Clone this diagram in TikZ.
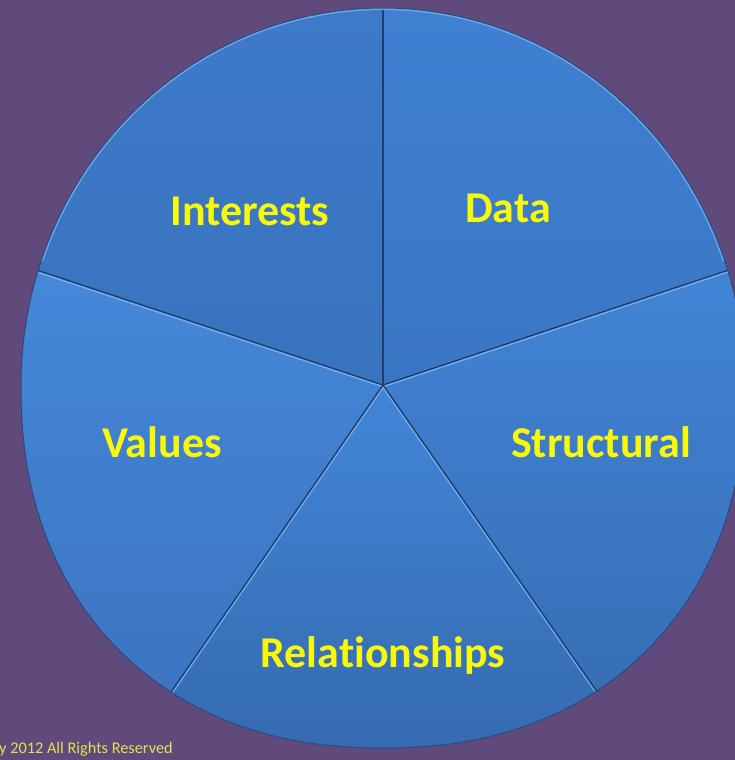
\documentclass[tikz,border=0pt]{standalone}
\usepackage{fontspec}
\setmainfont{Carlito}[Ligatures={NoCommon}]
\usetikzlibrary{calc}
\definecolor{bgpurple}{HTML}{604A7B}
\definecolor{labelyellow}{HTML}{F8F80A}
\definecolor{copyyellow}{HTML}{E6E050}
\definecolor{spokedark}{HTML}{1F3E6E}
\definecolor{spokelight}{HTML}{78B2F2}
\definecolor{rimdark}{HTML}{2A4A80}
\definecolor{rimlight}{HTML}{6AA6EC}
\begin{document}
\begin{tikzpicture}[x=1pt,y=-1pt,
  lbl/.style={text=labelyellow, font=\fontsize{44}{44}\selectfont\bfseries, anchor=base, inner sep=0pt},
  darkline/.style={draw=spokedark, line width=1.4pt},
  lightline/.style={draw=spokelight, line width=1.6pt, opacity=0.9}]
\fill[bgpurple] (0,0) rectangle (735,760);
\useasboundingbox (0,0) rectangle (735,760);
\def\rimpath{plot[domain=0:180,samples=91] ({383+362*cos(\x)},{385-377*sin(\x)}) -- plot[domain=180:360,samples=80] ({383+362*sign(cos(\x))*pow(abs(cos(\x))+0.0001,0.909)},{385+363*pow(abs(sin(\x))+0.0001,0.909)}) -- cycle}
\coordinate (hub) at (383,385);
\coordinate (eT) at (383,-67);
\coordinate (eR) at (828,237);
\coordinate (eBR) at (660,782);
\coordinate (eBL) at (109,782);
\coordinate (eL) at (-66,236);
\begin{scope}
  \clip \rimpath;
  \shade[top color={rgb,255:red,62;green,124;blue,204}, bottom color={rgb,255:red,57;green,115;blue,190}] (hub) -- (eL) -- (-100,-100) -- (eT) -- cycle;
  \shade[top color={rgb,255:red,65;green,131;blue,214}, bottom color={rgb,255:red,58;green,118;blue,196}] (hub) -- (eT) -- (850,-100) -- (eR) -- cycle;
  \shade[top color={rgb,255:red,70;green,137;blue,220}, bottom color={rgb,255:red,56;green,110;blue,182}] (hub) -- (eBL) -- (-100,850) -- (eL) -- cycle;
  \shade[top color={rgb,255:red,66;green,134;blue,216}, bottom color={rgb,255:red,52;green,102;blue,170}] (hub) -- (eR) -- (850,850) -- (eBR) -- cycle;
  \shade[top color={rgb,255:red,66;green,134;blue,216}, bottom color={rgb,255:red,52;green,104;blue,172}] (hub) -- (eBR) -- (eBL) -- cycle;
  % spoke highlights
  \draw[lightline, transform canvas={yshift=-1.6pt}] (hub) -- (eL);
  \draw[lightline, transform canvas={yshift=-1.6pt}] (hub) -- (eR);
  \draw[lightline, transform canvas={xshift=1.6pt}] (hub) -- (eBL);
  \draw[lightline, transform canvas={xshift=-1.6pt}] (hub) -- (eBR);
  % spokes
  \draw[darkline] (hub) -- (eT);
  \draw[darkline] (hub) -- (eR);
  \draw[darkline] (hub) -- (eBR);
  \draw[darkline] (hub) -- (eBL);
  \draw[darkline] (hub) -- (eL);
  % rim highlight at top
  \begin{scope}
    \clip (0,0) rectangle (735,260);
    \draw[rimlight, line width=4pt] \rimpath;
  \end{scope}
\end{scope}
\draw[rimdark, line width=1pt] \rimpath;
\node[lbl] (interests) at (250,225) {Interests};
\node[lbl] (data) at (508,222) {Data};
\node[lbl] (values) at (162,457) {Values};
\node[lbl] (structural) at (601,457) {Structural};
\node[lbl] (relationships) at (383,667) {Relationships};
\node[anchor=base west, text=copyyellow, font=\fontsize{16.3}{16.3}\selectfont, inner sep=0pt] (copyright) at (-1,753) {y 2012 All Rights Reserved};
\end{tikzpicture}
\end{document}
